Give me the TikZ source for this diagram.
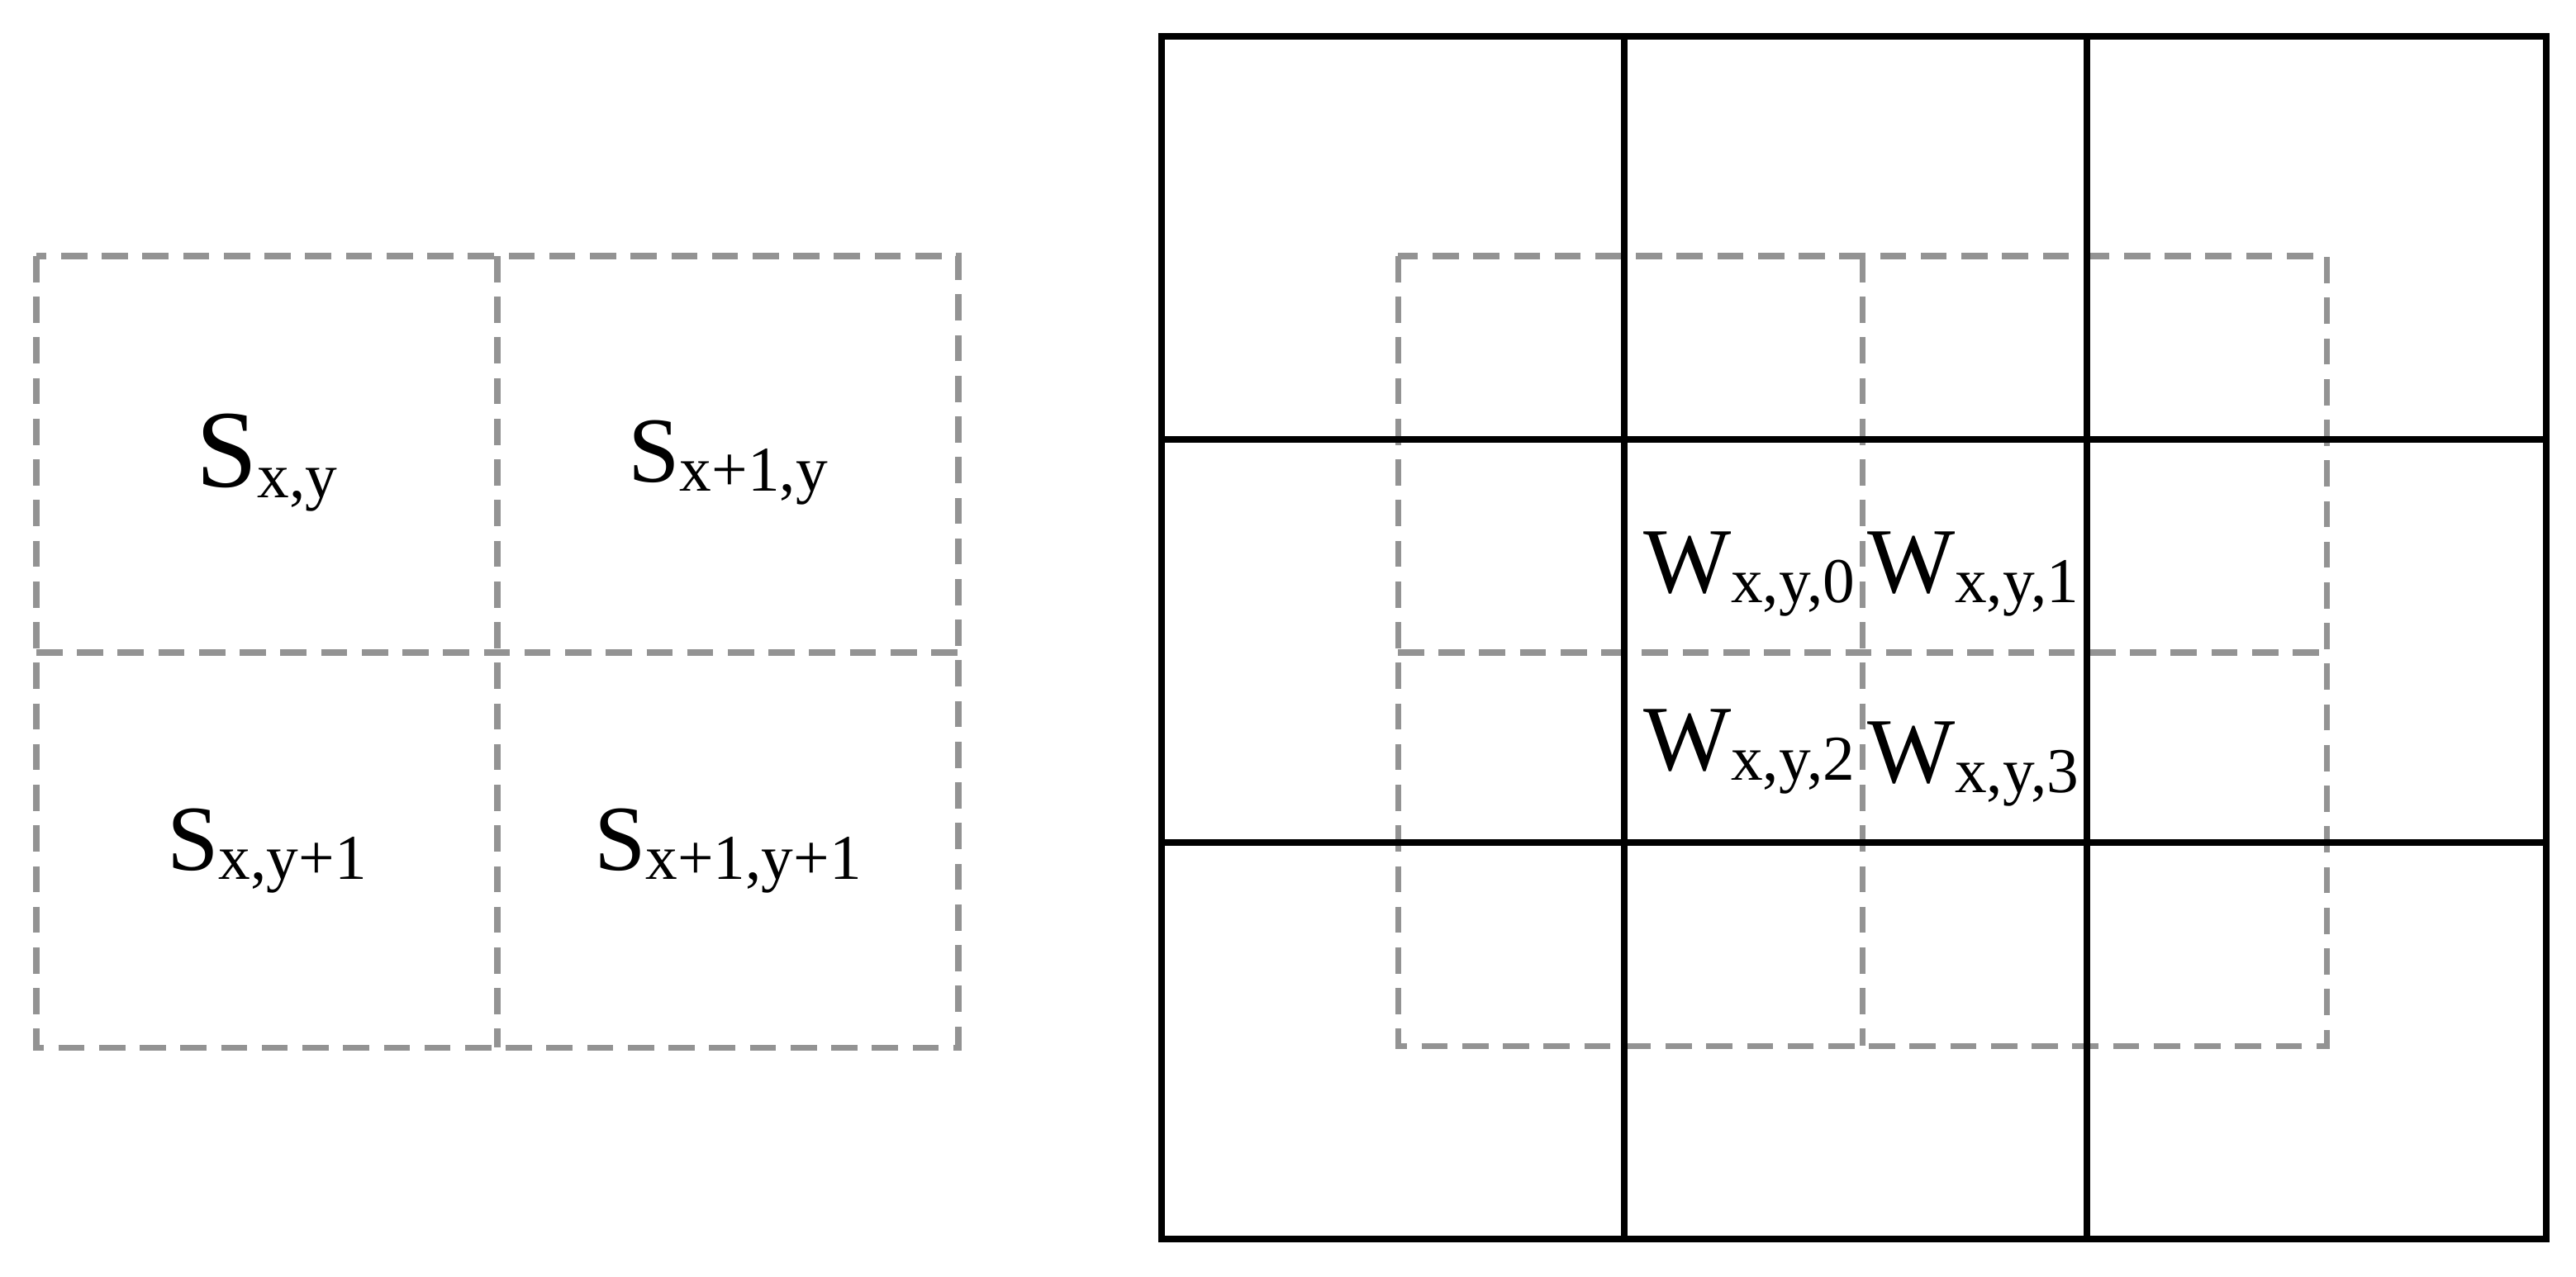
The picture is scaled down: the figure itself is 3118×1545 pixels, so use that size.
\documentclass[tikz,border=0pt]{standalone}
\usepackage{fontspec}
\setmainfont{Liberation Serif}
\newcommand{\mysub}[1]{\raisebox{-0.1em}{\fontsize{22}{24}\selectfont #1}}
\begin{document}
\begin{tikzpicture}[x=0.01cm,y=-0.01cm,
  solid line/.style={line width=2.4pt,black},
  dash line/.style={line width=2pt,gray!85,dash pattern=on 9pt off 5pt},
  lab/.style={inner sep=0pt,font=\fontsize{32}{36}\selectfont},
  biglab/.style={inner sep=0pt,font=\fontsize{38}{42}\selectfont}]
\useasboundingbox (0,0) rectangle (3118,1545);
% left grid
\draw[dash line] (44,310) rectangle (1160,1268);
\draw[dash line] (602,310) -- (602,1268);
\draw[dash line] (44,790) -- (1160,790);
\node[biglab] (s00) at (323,560) {S\mysub{x,y}};
\node[lab] (s10) at (881,560) {S\mysub{x+1,y}};
\node[lab] (s01) at (323,1030) {S\mysub{x,y+1}};
\node[lab] (s11) at (881,1030) {S\mysub{x+1,y+1}};
% right grid dashed
\draw[dash line] (1692,310) rectangle (2816,1266);
\draw[dash line] (2254,310) -- (2254,1266);
\draw[dash line] (1692,790) -- (2816,790);
% right grid solid
\draw[solid line] (1406,44) rectangle (3082,1500);
\draw[solid line] (1966,44) -- (1966,1500);
\draw[solid line] (2526,44) -- (2526,1500);
\draw[solid line] (1406,532) -- (3082,532);
\draw[solid line] (1406,1020) -- (3082,1020);
\node[lab] (w0) at (2117,695) {W\mysub{x,y,0}};
\node[lab] (w1) at (2388,695) {W\mysub{x,y,1}};
\node[lab] (w2) at (2117,910) {W\mysub{x,y,2}};
\node[lab] (w3) at (2388,925) {W\mysub{x,y,3}};
\end{tikzpicture}
\end{document}
